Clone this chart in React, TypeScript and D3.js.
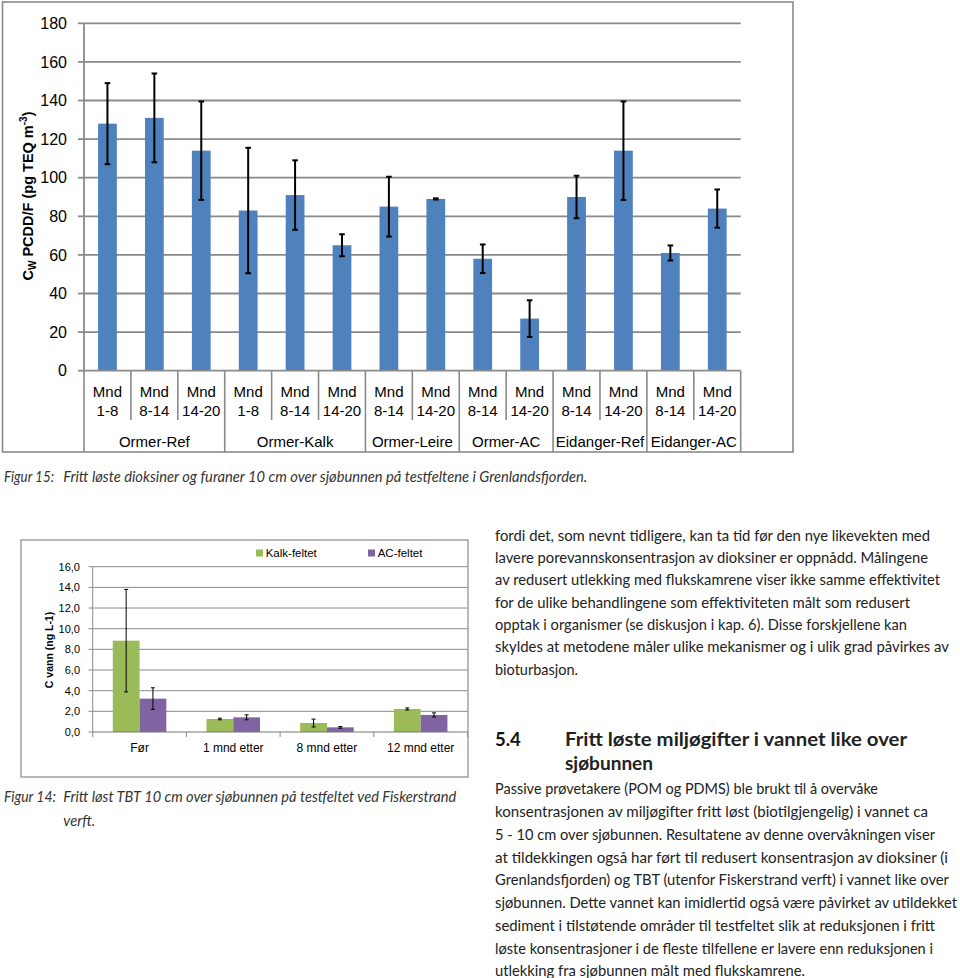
import React from 'react';
import * as d3 from 'd3';

// ---------- Figure 15 data ----------
const groups = ['Ormer-Ref', 'Ormer-Kalk', 'Ormer-Leire', 'Ormer-AC', 'Eidanger-Ref', 'Eidanger-AC'];
const periods = ['1-8', '8-14', '14-20', '1-8', '8-14', '14-20', '8-14', '14-20', '8-14', '14-20', '8-14', '14-20', '8-14', '14-20'];
const periodGroup = [0, 0, 0, 1, 1, 1, 2, 2, 3, 3, 4, 4, 5, 5];
const cwValues = [128, 131, 114, 83, 91, 65, 85, 89, 58, 27, 90, 114, 61, 84];
const cwErrors = [21, 23, 25.5, 32.5, 18, 5.7, 15.5, 0.3, 7.4, 9.5, 11, 25.5, 3.9, 9.9];
const cwTicks = [0, 20, 40, 60, 80, 100, 120, 140, 160, 180];

// ---------- Figure 14 data ----------
const tbtCategories = ['Før', '1 mnd etter', '8 mnd etter', '12 mnd etter'];
const tbtSeries = ['Kalk-feltet', 'AC-feltet'];
const kalkValues = [8.84, 1.26, 0.87, 2.23];
const kalkErrors = [4.96, 0.08, 0.38, 0.1];
const acValues = [3.23, 1.42, 0.45, 1.65];
const acErrors = [1.05, 0.24, 0.08, 0.2];
const tbtTicks = [0, 2, 4, 6, 8, 10, 12, 14, 16];

// ---------- text ----------
const caption15Label = 'Figur 15:';
const caption15Text = 'Fritt løste dioksiner og furaner 10 cm over sjøbunnen på testfeltene i Grenlandsfjorden.';
const caption14Label = 'Figur 14:';
const caption14Lines = ['Fritt løst TBT 10 cm over sjøbunnen på testfeltet ved Fiskerstrand', 'verft.'];
const para1Lines = [
  'fordi det, som nevnt tidligere, kan ta tid før den nye likevekten med',
  'lavere porevannskonsentrasjon av dioksiner er oppnådd. Målingene',
  'av redusert utlekking med flukskamrene viser ikke samme effektivitet',
  'for de ulike behandlingene som effektiviteten målt som redusert',
  'opptak i organismer (se diskusjon i kap. 6). Disse forskjellene kan',
  'skyldes at metodene måler ulike mekanismer og i ulik grad påvirkes av',
  'bioturbasjon.',
];
const headingNumber = '5.4';
const headingLines = ['Fritt løste miljøgifter i vannet like over', 'sjøbunnen'];
const para2Lines = [
  'Passive prøvetakere (POM og PDMS) ble brukt til å overvåke',
  'konsentrasjonen av miljøgifter fritt løst (biotilgjengelig) i vannet ca',
  '5 - 10 cm over sjøbunnen. Resultatene av denne overvåkningen viser',
  'at tildekkingen også har ført til redusert konsentrasjon av dioksiner (i',
  'Grenlandsfjorden) og TBT (utenfor Fiskerstrand verft) i vannet like over',
  'sjøbunnen. Dette vannet kan imidlertid også være påvirket av utildekket',
  'sediment i tilstøtende områder til testfeltet slik at reduksjonen i fritt',
  'løste konsentrasjoner i de fleste tilfellene er lavere enn reduksjonen i',
  'utlekking fra sjøbunnen målt med flukskamrene.',
];
// layout: rendered widths of text lines (px)
const para1Widths = [435, 433, 445, 415, 412, 454, 83];
const headingWidths = [342, 88];
const para2Widths = [383, 433, 440, 453, 454, 462, 440, 438, 310];

const CHART_FONT = '"Liberation Sans", Arial, sans-serif';
const BODY_FONT = 'Lato, "Open Sans", sans-serif';
const CAPTION_FONT = '"Liberation Sans Narrow", Lato, "Open Sans", sans-serif';
const GRID = '#8a8a8a';

function TopChart() {
  const x = d3.scaleBand<number>().domain(d3.range(cwValues.length)).range([84, 740.7]);
  const y = d3.scaleLinear().domain([0, 180]).range([370.7, 23.3]);
  const bw = x.bandwidth();
  const barW = bw / 2.5;
  const spans = groups.map((g, gi) => {
    const idx = periodGroup.map((p, j) => (p === gi ? j : -1)).filter((j) => j >= 0);
    return { name: g, x0: x(idx[0])!, x1: x(idx[idx.length - 1])! + bw, start: idx[0] };
  });
  const groupStarts = new Set(spans.map((s) => s.start));
  const boundaries = d3.range(cwValues.length + 1);
  return (
    <g fontFamily={CHART_FONT}>
      <rect x={2.5} y={2} width={790.5} height={450} fill="none" stroke={GRID} strokeWidth={1.6} />
      {cwTicks.map((t) => (
        <g key={t}>
          {t > 0 && <line x1={84} x2={740.7} y1={y(t)} y2={y(t)} stroke={GRID} strokeWidth={1.8} />}
          <line x1={78} x2={84} y1={y(t)} y2={y(t)} stroke={GRID} strokeWidth={1.8} />
          <text x={67} y={y(t)} dy="0.36em" textAnchor="end" fontSize={16} fill="#000">{t}</text>
        </g>
      ))}
      <line x1={84} x2={84} y1={y(180)} y2={y(0)} stroke={GRID} strokeWidth={1.8} />
      {cwValues.map((v, i) => {
        const cx = x(i)! + bw / 2;
        const e = cwErrors[i];
        return (
          <g key={i}>
            <rect x={cx - barW / 2} y={y(v)} width={barW} height={y(0) - y(v)} fill="#4F81BD" />
            <line x1={cx} x2={cx} y1={y(v + e)} y2={y(v - e)} stroke="#000" strokeWidth={2} />
            <line x1={cx - 2.8} x2={cx + 2.8} y1={y(v + e)} y2={y(v + e)} stroke="#000" strokeWidth={2} />
            <line x1={cx - 2.8} x2={cx + 2.8} y1={y(v - e)} y2={y(v - e)} stroke="#000" strokeWidth={2} />
          </g>
        );
      })}
      <line x1={84} x2={740.7} y1={y(0)} y2={y(0)} stroke={GRID} strokeWidth={1.8} />
      {boundaries.map((b) => {
        const bx = b === cwValues.length ? 740.7 : x(b)!;
        const full = b === cwValues.length || groupStarts.has(b);
        return <line key={b} x1={bx} x2={bx} y1={y(0)} y2={full ? 452 : 420} stroke={GRID} strokeWidth={1.6} />;
      })}
      {periods.map((p, i) => {
        const cx = x(i)! + bw / 2;
        return (
          <g key={i}>
            <text x={cx} y={391.7} dy="0.36em" textAnchor="middle" fontSize={15}>Mnd</text>
            <text x={cx} y={410.7} dy="0.36em" textAnchor="middle" fontSize={15}>{p}</text>
          </g>
        );
      })}
      {spans.map((s) => (
        <text key={s.name} x={(s.x0 + s.x1) / 2} y={441.5} dy="0.36em" textAnchor="middle" fontSize={15}>{s.name}</text>
      ))}
      <text transform="translate(33,196) rotate(-90)" textAnchor="middle" fontSize={14.5} fontWeight="bold">
        C<tspan fontSize={10} dy={3}>W</tspan>
        <tspan dy={-3}> PCDD/F (pg TEQ m</tspan>
        <tspan fontSize={10} dy={-6}>-3</tspan>
        <tspan dy={6}>)</tspan>
      </text>
    </g>
  );
}

function BottomChart() {
  const x = d3.scaleBand<string>().domain(tbtCategories).range([92.7, 467.5]);
  const y = d3.scaleLinear().domain([0, 16]).range([732, 566.7]);
  const bw = x.bandwidth();
  const barW = bw / 3.5;
  const colors = ['#9BBB59', '#8064A2'];
  const series = [
    { values: kalkValues, errors: kalkErrors },
    { values: acValues, errors: acErrors },
  ];
  return (
    <g fontFamily={CHART_FONT}>
      <rect x={21} y={540} width={447} height={237} fill="none" stroke={GRID} strokeWidth={1.2} />
      {tbtTicks.map((t) => (
        <g key={t}>
          {t > 0 && <line x1={92.7} x2={467.5} y1={y(t)} y2={y(t)} stroke={GRID} strokeWidth={1} />}
          <line x1={88.5} x2={92.7} y1={y(t)} y2={y(t)} stroke={GRID} strokeWidth={1} />
          <text x={80} y={y(t)} dy="0.36em" textAnchor="end" fontSize={11}>{d3.format('.1f')(t).replace('.', ',')}</text>
        </g>
      ))}
      <line x1={92.7} x2={92.7} y1={y(16)} y2={y(0)} stroke={GRID} strokeWidth={1} />
      {series.map((s, si) =>
        s.values.map((v, i) => {
          const bx = x(tbtCategories[i])! + bw / 2 + (si - 1) * barW;
          const cx = bx + barW / 2;
          const e = s.errors[i];
          return (
            <g key={`${si}-${i}`}>
              <rect x={bx} y={y(v)} width={barW} height={y(0) - y(v)} fill={colors[si]} />
              <line x1={cx} x2={cx} y1={y(v + e)} y2={y(v - e)} stroke="#000" strokeWidth={1} />
              <line x1={cx - 2} x2={cx + 2} y1={y(v + e)} y2={y(v + e)} stroke="#000" strokeWidth={1} />
              <line x1={cx - 2} x2={cx + 2} y1={y(v - e)} y2={y(v - e)} stroke="#000" strokeWidth={1} />
            </g>
          );
        })
      )}
      <line x1={92.7} x2={467.5} y1={y(0)} y2={y(0)} stroke="#777" strokeWidth={1.2} />
      {d3.range(tbtCategories.length + 1).map((b) => {
        const bx = b === tbtCategories.length ? 467.5 : x(tbtCategories[b])!;
        return <line key={b} x1={bx} x2={bx} y1={y(0)} y2={y(0) + 5} stroke={GRID} strokeWidth={1} />;
      })}
      {tbtCategories.map((c) => (
        <text key={c} x={x(c)! + bw / 2} y={748} dy="0.36em" textAnchor="middle" fontSize={12}>{c}</text>
      ))}
      {tbtSeries.map((s, si) => (
        <g key={s}>
          <rect x={si === 0 ? 256 : 368} y={549.5} width={7} height={7} fill={colors[si]} />
          <text x={si === 0 ? 265.7 : 377.7} y={553} dy="0.36em" fontSize={11.5}>{s}</text>
        </g>
      ))}
      <text transform="translate(49.5,650) rotate(-90)" textAnchor="middle" fontSize={10.5} fontWeight="bold" dy="0.36em">C vann (ng L-1)</text>
    </g>
  );
}

function TextLines({ lines, widths, x, y0, step, size, weight }: { lines: string[]; widths: number[]; x: number; y0: number; step: number; size: number; weight?: string }) {
  return (
    <g>
      {lines.map((l, i) => (
        <text key={i} x={x} y={y0 + i * step} dy="0.35em" fontSize={size} fontWeight={weight} fill="#222" textLength={widths[i]} lengthAdjust="spacingAndGlyphs">{l}</text>
      ))}
    </g>
  );
}

export default function App() {
  return (
    <svg width={960} height={978} viewBox="0 0 960 978" style={{ position: 'absolute', left: 0, top: 0, background: '#fff' }}>
      <rect width={960} height={978} fill="#fff" />
      <TopChart />
      <g fontFamily={CAPTION_FONT} fontStyle="italic">
        <text x={4} y={477} dy="0.35em" fontSize={15} fill="#333" textLength={50} lengthAdjust="spacingAndGlyphs">{caption15Label}</text>
        <text x={63.3} y={477} dy="0.35em" fontSize={15} fill="#333" textLength={524} lengthAdjust="spacingAndGlyphs">{caption15Text}</text>
      </g>
      <BottomChart />
      <g fontFamily={CAPTION_FONT} fontStyle="italic">
        <text x={4} y={797} dy="0.35em" fontSize={15} fill="#333" textLength={52} lengthAdjust="spacingAndGlyphs">{caption14Label}</text>
        <text x={63.3} y={797} dy="0.35em" fontSize={15} fill="#333" textLength={393} lengthAdjust="spacingAndGlyphs">{caption14Lines[0]}</text>
        <text x={63.3} y={821} dy="0.35em" fontSize={15} fill="#333" textLength={32} lengthAdjust="spacingAndGlyphs">{caption14Lines[1]}</text>
      </g>
      <g fontFamily={BODY_FONT}>
        <TextLines lines={para1Lines} widths={para1Widths} x={495} y0={535.5} step={22.3} size={15} />
        <text x={495} y={740} dy="0.35em" fontSize={18.5} fontWeight="bold" fill="#111">{headingNumber}</text>
        <TextLines lines={headingLines} widths={headingWidths} x={565} y0={740} step={23.3} size={18.5} weight="bold" />
        <TextLines lines={para2Lines} widths={para2Widths} x={495} y0={789} step={22.75} size={15} />
      </g>
    </svg>
  );
}
